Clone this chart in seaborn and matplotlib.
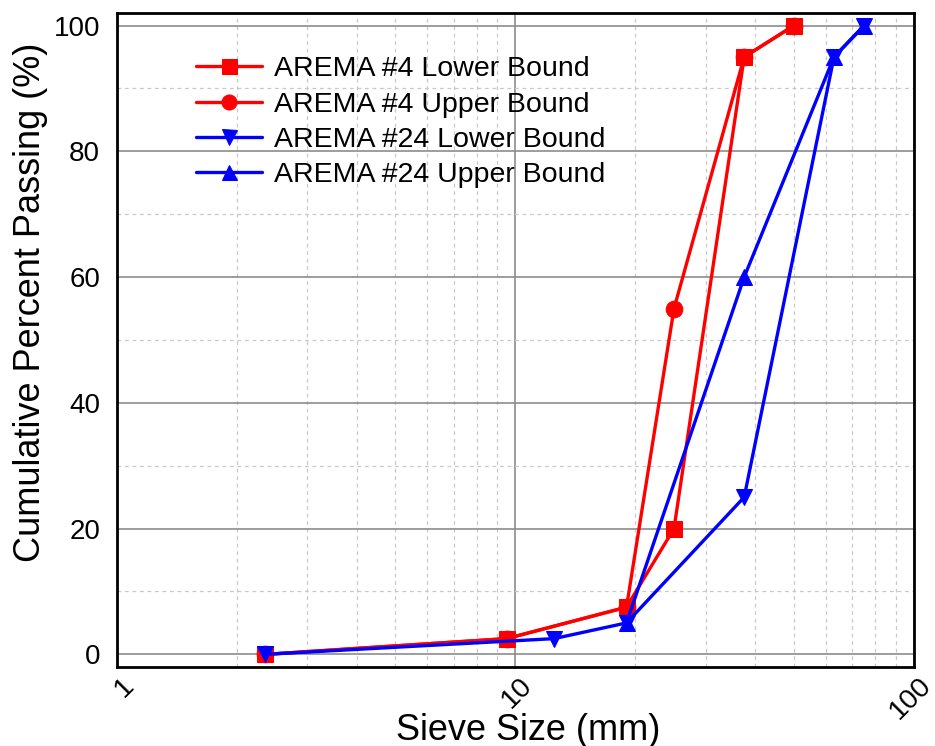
import matplotlib
matplotlib.use("Agg")
import matplotlib.pyplot as plt
import matplotlib.transforms as mtransforms
import seaborn as sns
import pandas as pd
from matplotlib.ticker import LogLocator, FixedLocator, NullFormatter, MultipleLocator

# Data
a4_lower_x = [2.36, 9.5, 19, 25, 37.5, 50]
a4_lower_y = [0, 2.5, 7.5, 20, 95, 100]
a4_upper_x = [2.36, 9.5, 19, 25, 37.5, 50]
a4_upper_y = [0, 2.5, 7.5, 55, 95, 100]
a24_lower_x = [2.36, 12.5, 19, 37.5, 63, 75]
a24_lower_y = [0, 2.5, 5, 25, 95, 100]
a24_upper_x = [19, 37.5, 63, 75]
a24_upper_y = [5, 60, 95, 100]

series_names = ["AREMA #4 Lower Bound", "AREMA #4 Upper Bound",
                "AREMA #24 Lower Bound", "AREMA #24 Upper Bound"]
x_ticks = [1, 10, 100]
y_ticks = [0, 20, 40, 60, 80, 100]

sns.set_theme(style="white")
plt.rcParams['font.family'] = ['Liberation Sans', 'DejaVu Sans']
plt.rcParams.update({"text.color": "black", "axes.labelcolor": "black",
                     "xtick.color": "black", "ytick.color": "black"})

fig = plt.figure(figsize=(9.35, 7.46), dpi=100)
ax = fig.add_axes([0.125, 0.106, 0.8525, 0.8766])

data = [
    (a4_lower_x, a4_lower_y, series_names[0], "#ff0000", "s"),
    (a4_upper_x, a4_upper_y, series_names[1], "#ff0000", "o"),
    (a24_lower_x, a24_lower_y, series_names[2], "#0000ff", "v"),
    (a24_upper_x, a24_upper_y, series_names[3], "#0000ff", "^"),
]
for xs, ys, name, col, mk in data:
    df = pd.DataFrame({"x": xs, "y": ys})
    sns.lineplot(data=df, x="x", y="y", ax=ax, color=col, marker=mk,
                 markersize=12, markeredgecolor=col, linewidth=2.4,
                 label=name, sort=False, estimator=None)

ax.set_xscale("log")
ax.set_xlim(1, 100)
ax.set_ylim(-2, 102)
ax.xaxis.set_major_locator(FixedLocator(x_ticks))
ax.set_xticklabels([str(t) for t in x_ticks], rotation=45, fontsize=20.5,
                   ha="right", va="top", rotation_mode="anchor")
ax.xaxis.set_minor_locator(LogLocator(base=10, subs=range(2, 10)))
ax.xaxis.set_minor_formatter(NullFormatter())
ax.set_yticks(y_ticks)
ax.set_yticklabels([str(t) for t in y_ticks], fontsize=20)
ax.yaxis.set_minor_locator(MultipleLocator(10))

ax.grid(True, which="major", color="#8c8c8c", linewidth=1.2, linestyle="-")
ax.grid(True, which="minor", color="#c8c8c8", linewidth=0.9, linestyle=(0, (3, 3)))
ax.set_axisbelow(True)

ax.tick_params(axis="both", which="major", direction="in", length=9, width=1.5,
               color="black")
ax.tick_params(axis="x", which="major", pad=4)
ax.tick_params(axis="y", which="major", pad=12)
ax.tick_params(axis="both", which="minor", length=0)
offset = mtransforms.ScaledTranslation(4 / 100, 0, fig.dpi_scale_trans)
for lab in ax.get_xticklabels():
    lab.set_transform(lab.get_transform() + offset)
for s in ax.spines.values():
    s.set_color("black")
    s.set_linewidth(2)

ax.set_xlabel("Sieve Size (mm)", fontsize=26)
ax.set_ylabel("Cumulative Percent Passing (%)", fontsize=26)
ax.xaxis.set_label_coords(0.516, -0.07)
ax.yaxis.set_label_coords(-0.086, 0.558)

leg = ax.legend(loc="upper left", bbox_to_anchor=(0.0665, 0.973), frameon=False,
                fontsize=20.5, handlelength=2.35, labelspacing=0.33, handletextpad=0.4,
                markerscale=0.9)

fig.savefig("out.png", dpi=100)
